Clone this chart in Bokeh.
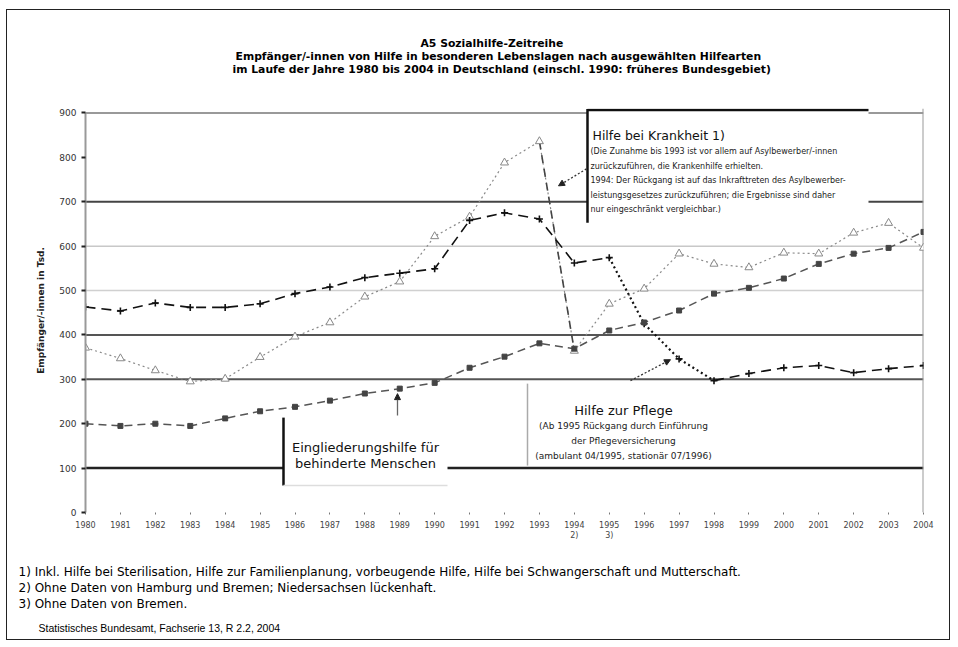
from bokeh.plotting import figure
from bokeh.models import Label, Span, BoxAnnotation, Arrow, NormalHead, Range1d, FixedTicker, Title
from bokeh.embed import file_html
from bokeh.resources import INLINE

# ---------------- data (Tsd. Empfänger/-innen) ----------------
years = list(range(1980, 2005))
year_labels = [str(y) for y in years]
year_notes = {1994: "2)", 1995: "3)"}
krankheit = [371, 347, 320, 295, 301, 350, 396, 428, 486, 520, 622, 666, 788, 836,
             364, 470, 504, 583, 560, 552, 585, 583, 630, 652, 596]
pflege = [463, 454, 472, 462, 462, 470, 493, 508, 529, 539, 549, 658, 675, 661,
          562, 574, 425, 346, 297, 313, 326, 331, 315, 324, 331]
eingliederung = [200, 195, 200, 195, 212, 228, 238, 252, 268, 279, 292, 326, 351, 381,
                 369, 410, 428, 455, 493, 506, 527, 560, 583, 596, 632]
y_ticks = [0, 100, 200, 300, 400, 500, 600, 700, 800, 900]

FONT = "DejaVu Sans"
FONT2 = "Liberation Sans"

p = figure(width=944, height=631, output_backend="svg", toolbar_location=None,
           x_range=Range1d(1980, 2004), y_range=Range1d(0, 910),
           min_border_left=78, min_border_right=28, min_border_top=98, min_border_bottom=129)
p.styles = {"border": "1px solid #222", "margin-left": "6px", "margin-top": "9px"}
p.outline_line_color = None
p.xgrid.visible = False
p.ygrid.visible = False


def X(px):
    return 1980 + (px - 85) / 34.917


def Y(py):
    return (512 - py) * 2.25


def spacer(place, h):
    p.add_layout(Title(text=" ", text_font_size="1px", standoff=h), place)


# ---------------- titles (stacked outward from the frame) ----------------
title_lines = ["im Laufe der Jahre 1980 bis 2004 in Deutschland (einschl. 1990: früheres Bundesgebiet)",
               "Empfänger/-innen von Hilfe in besonderen Lebenslagen nach ausgewählten Hilfearten",
               "A5 Sozialhilfe-Zeitreihe"]
title_offsets = [147, 150, 335]
spacer("above", 31)
for t, off in zip(title_lines, title_offsets):
    p.add_layout(Title(text=t, align="left", text_font=FONT, text_font_size="10.8px",
                       text_font_style="bold", text_color="#000",
                       standoff=-2, offset=off), "above")

# ---------------- axes ----------------
p.xaxis.ticker = FixedTicker(ticks=years)
p.xaxis.major_label_overrides = {y: (l + "\n" + year_notes[y]) if y in year_notes else l
                                 for y, l in zip(years, year_labels)}
p.xaxis.axis_line_color = None
p.xaxis.major_tick_line_color = "#777"
p.xaxis.major_tick_out = 2
p.xaxis.major_tick_in = 0
p.xaxis.minor_tick_line_color = None
p.xaxis.major_label_text_font = FONT
p.xaxis.major_label_text_font_size = "8px"
p.xaxis.major_label_text_color = "#444"
p.xaxis.major_label_standoff = 6

p.yaxis.ticker = FixedTicker(ticks=y_ticks)
p.yaxis.bounds = (0, 900)
p.yaxis.axis_line_color = "#999"
p.yaxis.axis_line_width = 2
p.yaxis.major_tick_line_color = "#222"
p.yaxis.major_tick_line_width = 2
p.yaxis.major_tick_out = 4
p.yaxis.major_tick_in = 0
p.yaxis.minor_tick_line_color = None
p.yaxis.major_label_text_font = FONT
p.yaxis.major_label_text_font_size = "9px"
p.yaxis.major_label_text_color = "#333"
p.yaxis.axis_label = "Empfänger/-innen in Tsd."
p.yaxis.axis_label_text_font = FONT
p.yaxis.axis_label_text_font_size = "9px"
p.yaxis.axis_label_text_font_style = "bold"
p.yaxis.axis_label_text_color = "#222"
p.yaxis.axis_label_standoff = 10

# ---------------- footnotes (below the axis) ----------------
footnotes = ["1) Inkl. Hilfe bei Sterilisation, Hilfe zur Familienplanung, vorbeugende Hilfe, Hilfe bei Schwangerschaft und Mutterschaft.",
             "2) Ohne Daten von Hamburg und Bremen; Niedersachsen lückenhaft.",
             "3) Ohne Daten von Bremen."]
source = "Statistisches Bundesamt, Fachserie 13, R 2.2, 2004"
spacer("below", 16)
for t in footnotes:
    p.add_layout(Title(text=t, align="left", text_font=FONT, text_font_size="12px",
                       text_font_style="normal", text_color="#000",
                       standoff=0, offset=-67), "below")
spacer("below", 6)
p.add_layout(Title(text=source, align="left", text_font=FONT2, text_font_size="10.5px",
                   text_font_style="normal", text_color="#000", standoff=0, offset=-47), "below")

# ---------------- grid lines ----------------
grid_style = {900: ("#999", 2), 700: ("#444", 2), 600: ("#c8c8c8", 1.5), 500: ("#d0d0d0", 1.5),
              400: ("#555", 2), 300: ("#555", 2), 100: ("#222", 2.5)}
for v, (c, w) in grid_style.items():
    p.add_layout(Span(location=v, dimension="width", line_color=c, line_width=w, level="underlay"))
p.add_layout(Span(location=2004, dimension="height", line_color="#999", line_width=2, level="underlay"))

# ---------------- series ----------------
# Hilfe bei Krankheit
p.line(years, krankheit, line_color="#8a8a8a", line_width=1.2, line_dash="2 3")
p.line(years[13:15], krankheit[13:15], line_color="#444", line_width=1.6, line_dash="8 6")
p.scatter(years, krankheit, marker="triangle", size=8, fill_color="white", line_color="#888", line_width=1)

# Hilfe zur Pflege
p.line(years[:16], pflege[:16], line_color="#111", line_width=1.6, line_dash="10 6")
p.line(years[15:19], pflege[15:19], line_color="#111", line_width=2.2, line_dash="2 3")
p.line(years[18:], pflege[18:], line_color="#111", line_width=1.6, line_dash="10 6")
p.scatter(years, pflege, marker="cross", size=7, line_color="#111", line_width=1.6)

# Eingliederungshilfe
p.line(years, eingliederung, line_color="#555", line_width=1.5, line_dash="8 5")
p.scatter(years, eingliederung, marker="square", size=5, fill_color="#444", line_color="#444")

# ---------------- annotation boxes ----------------
p.add_layout(BoxAnnotation(left=X(587), right=X(868), top=Y(106), bottom=Y(222),
                           fill_color="white", fill_alpha=1, line_color=None))
p.add_layout(BoxAnnotation(left=X(283), right=X(447), top=Y(417), bottom=Y(485),
                           fill_color="white", fill_alpha=1, line_color=None))


def seg(x0, y0, x1, y1, color, width, dash="solid"):
    p.add_layout(Arrow(end=None, x_start=X(x0), y_start=Y(y0), x_end=X(x1), y_end=Y(y1),
                       line_color=color, line_width=width, line_dash=dash))


seg(587, 109, 868, 109, "#111", 2.5)
seg(587, 108, 587, 222, "#111", 2.5)
seg(283, 417, 283, 485, "#111", 2.5)
seg(283, 485, 447, 485, "#ddd", 1.5)
seg(527, 383, 527, 465, "#aaa", 1.5)

# pointers
p.add_layout(Arrow(end=NormalHead(size=6, fill_color="#222", line_color="#222"),
                   x_start=X(586), y_start=Y(168), x_end=X(558), y_end=Y(185),
                   line_color="#333", line_width=1.3, line_dash="2 2"))
p.add_layout(Arrow(end=NormalHead(size=6, fill_color="#222", line_color="#222"),
                   x_start=X(397), y_start=Y(415), x_end=X(397), y_end=Y(393),
                   line_color="#666", line_width=1.3))
p.add_layout(Arrow(end=NormalHead(size=6, fill_color="#222", line_color="#222"),
                   x_start=X(630), y_start=Y(380), x_end=X(670), y_end=Y(359),
                   line_color="#333", line_width=1.3, line_dash="2 2"))


# ---------------- texts inside the chart ----------------
def txt(x, y, s, size, bold=False, align="left", color="#000"):
    p.add_layout(Label(x=X(x), y=Y(y), text=s, text_font=FONT, text_font_size=f"{size}px",
                       text_font_style="bold" if bold else "normal", text_align=align,
                       text_baseline="middle", text_color=color))


txt(592, 135, "Hilfe bei Krankheit 1)", 12.5, False, "left", "#111")
kr_lines = ["(Die Zunahme bis 1993 ist vor allem auf Asylbewerber/-innen",
            "zurückzuführen, die Krankenhilfe erhielten.",
            "1994: Der Rückgang ist auf das Inkrafttreten des Asylbewerber-",
            "leistungsgesetzes zurückzuführen; die Ergebnisse sind daher",
            "nur eingeschränkt vergleichbar.)"]
for i, s in enumerate(kr_lines):
    txt(590, 151 + i * 14.5, s, 8, False, "left", "#222")

txt(365, 447, "Eingliederungshilfe für", 13, False, "center", "#111")
txt(365, 463, "behinderte Menschen", 13, False, "center", "#111")

txt(623, 410, "Hilfe zur Pflege", 13, False, "center", "#111")
pf_lines = ["(Ab 1995 Rückgang durch Einführung",
            "der Pflegeversicherung",
            "(ambulant 04/1995, stationär 07/1996)"]
for i, s in enumerate(pf_lines):
    txt(623, 425 + i * 15, s, 9, False, "center", "#222")

open("out.html", "w").write(file_html(p, INLINE))
